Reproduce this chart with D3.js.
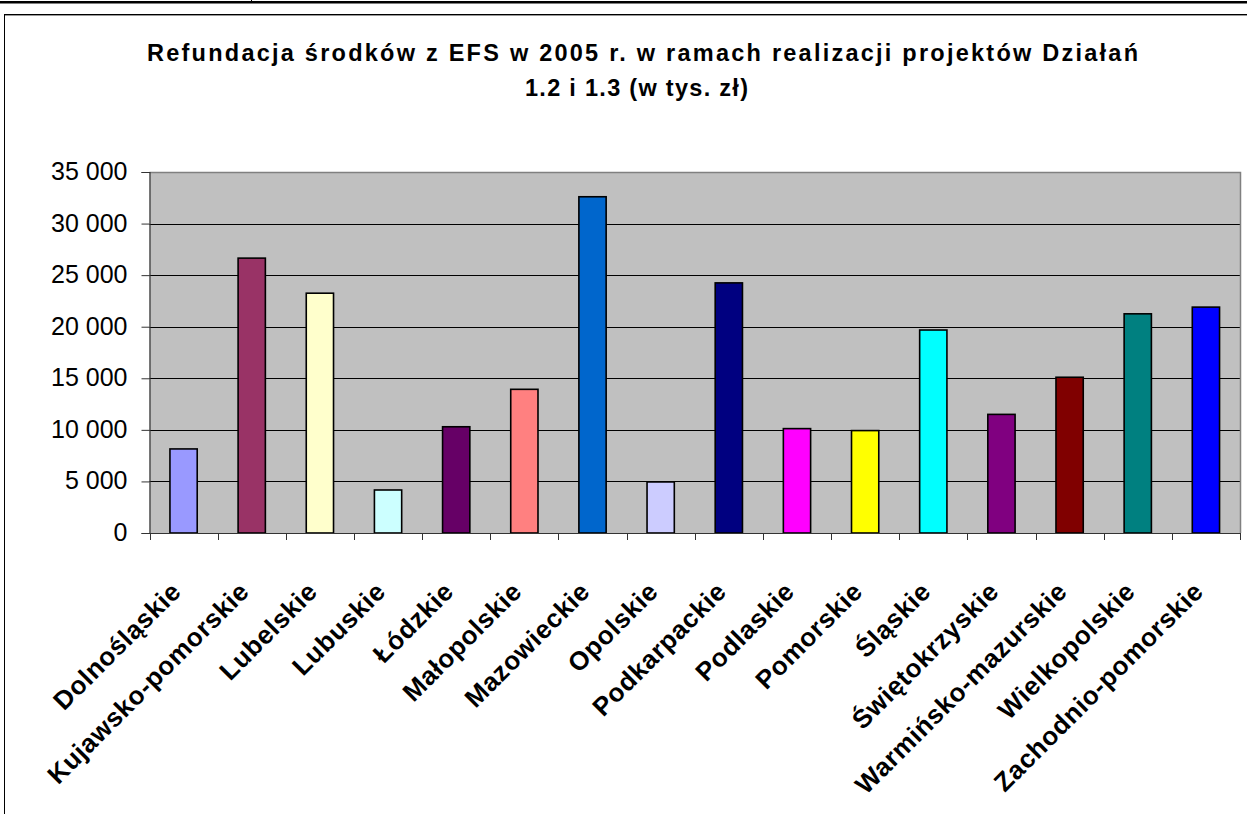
<!DOCTYPE html>
<html>
<head>
<meta charset="utf-8">
<script src="https://cdn.jsdelivr.net/npm/d3@7"></script>
<style>
  html, body { margin: 0; padding: 0; background: #fff; }
  svg { display: block; }
  text { font-family: "Liberation Sans", Arial, sans-serif; fill: #000; }
</style>
</head>
<body>
<svg id="chart" width="1247" height="814"></svg>
<script>
const titleLines = [
  "Refundacja środków z EFS w 2005 r. w ramach realizacji projektów Działań",
  "1.2 i 1.3 (w tys. zł)"
];
const categories = [
  "Dolnośląskie", "Kujawsko-pomorskie", "Lubelskie", "Lubuskie", "Łódzkie",
  "Małopolskie", "Mazowieckie", "Opolskie", "Podkarpackie", "Podlaskie",
  "Pomorskie", "Śląskie", "Świętokrzyskie", "Warmińsko-mazurskie",
  "Wielkopolskie", "Zachodnio-pomorskie"
];
const values = [
  8150, 26650, 23250, 4170, 10300,
  13930, 32600, 4950, 24250, 10120,
  9930, 19680, 11500, 15100,
  21250, 21900
];
const colors = [
  "#9999FF", "#993366", "#FFFFCC", "#CCFFFF", "#660066",
  "#FF8080", "#0066CC", "#CCCCFF", "#000080", "#FF00FF",
  "#FFFF00", "#00FFFF", "#800080", "#800000",
  "#008080", "#0000FF"
];
const yTicks = [0, 5000, 10000, 15000, 20000, 25000, 30000, 35000];

const svg = d3.select("#chart");

// page top rule and chart frame
svg.append("rect").attr("x", 0).attr("y", 1).attr("width", 1247).attr("height", 2.5).attr("fill", "#000");
svg.append("line").attr("x1", 251.5).attr("x2", 251.5).attr("y1", 0).attr("y2", 3).attr("stroke", "#000");
svg.append("rect").attr("x", 4.5).attr("y", 14.5).attr("width", 1400).attr("height", 1000)
  .attr("fill", "none").attr("stroke", "#000").attr("stroke-width", 1);
svg.append("line").attr("x1", 5).attr("x2", 1247).attr("y1", 15.5).attr("y2", 15.5).attr("stroke", "#999");

const plot = { left: 149.5, right: 1240, top: 172, bottom: 533 };

const xBand = d3.scaleBand().domain(categories).range([plot.left, plot.right]).padding(0);
const y = d3.scaleLinear().domain([0, 35000]).range([plot.bottom, plot.top]);

// plot background
svg.append("rect")
  .attr("x", plot.left).attr("y", plot.top)
  .attr("width", plot.right - plot.left).attr("height", plot.bottom - plot.top)
  .attr("fill", "#C0C0C0");

// gridlines
svg.append("g").selectAll("line").data(yTicks.filter(t => t > 0 && t < 35000)).join("line")
  .attr("x1", plot.left).attr("x2", plot.right)
  .attr("y1", d => Math.round(y(d)) + 0.5).attr("y2", d => Math.round(y(d)) + 0.5)
  .attr("stroke", "#000").attr("stroke-width", 1);

// plot border (top / right)
svg.append("path")
  .attr("d", `M${plot.left},${plot.top + 0.5}H${plot.right + 0.5}V${plot.bottom}`)
  .attr("fill", "none").attr("stroke", "#808080").attr("stroke-width", 1.5);

// bars
const barW = xBand.bandwidth() * 0.4;
svg.append("g").selectAll("rect").data(categories).join("rect")
  .attr("x", (d) => xBand(d) + xBand.bandwidth() * 0.3)
  .attr("y", (d, i) => y(values[i]))
  .attr("width", barW)
  .attr("height", (d, i) => y(0) - y(values[i]))
  .attr("fill", (d, i) => colors[i])
  .attr("stroke", "#000").attr("stroke-width", 1.6);

// y axis
const fmt = d3.formatLocale({ decimal: ",", thousands: " ", grouping: [3], currency: ["", " zł"] }).format(",d");
const yAxis = svg.append("g").attr("transform", `translate(${plot.left},0)`)
  .call(d3.axisLeft(y).tickValues(yTicks).tickFormat(fmt).tickSize(8).tickPadding(14));
yAxis.select(".domain").attr("stroke", "#333").attr("stroke-width", 1.2);
yAxis.selectAll(".tick line").attr("stroke", "#333");
yAxis.selectAll(".tick text")
  .attr("font-size", 25).attr("font-family", "'Liberation Sans', Arial, sans-serif")
  .attr("fill", "#000").attr("dy", "0.3em");

// x axis
const xAxis = svg.append("g").attr("transform", `translate(0,${plot.bottom})`)
  .call(d3.axisBottom(xBand).tickSize(0).tickFormat(""));
xAxis.select(".domain").attr("stroke", "#333").attr("stroke-width", 1.2);
xAxis.selectAll(".tick").remove();
// tick marks at band boundaries
const edges = categories.map(c => xBand(c)).concat([plot.right]);
svg.append("g").selectAll("line").data(edges).join("line")
  .attr("x1", d => Math.round(d) + 0.5).attr("x2", d => Math.round(d) + 0.5)
  .attr("y1", plot.bottom).attr("y2", plot.bottom + 7)
  .attr("stroke", "#333").attr("stroke-width", 1);

// category labels
svg.append("g").selectAll("text").data(categories).join("text")
  .attr("transform", d => `translate(${xBand(d) + xBand.bandwidth() / 2 - 1},${plot.bottom + 60}) rotate(-45)`)
  .attr("text-anchor", "end")
  .attr("font-size", 26).attr("font-weight", "bold")
  .attr("letter-spacing", 0.6)
  .text(d => d);

// title
svg.append("text").attr("x", 147).attr("y", 61)
  .attr("font-size", 23.5).attr("font-weight", "bold")
  .attr("textLength", 991).attr("lengthAdjust", "spacing")
  .text(titleLines[0]);
svg.append("text").attr("x", 525).attr("y", 96)
  .attr("font-size", 23.5).attr("font-weight", "bold")
  .attr("textLength", 223).attr("lengthAdjust", "spacing")
  .text(titleLines[1]);
</script>
</body>
</html>
